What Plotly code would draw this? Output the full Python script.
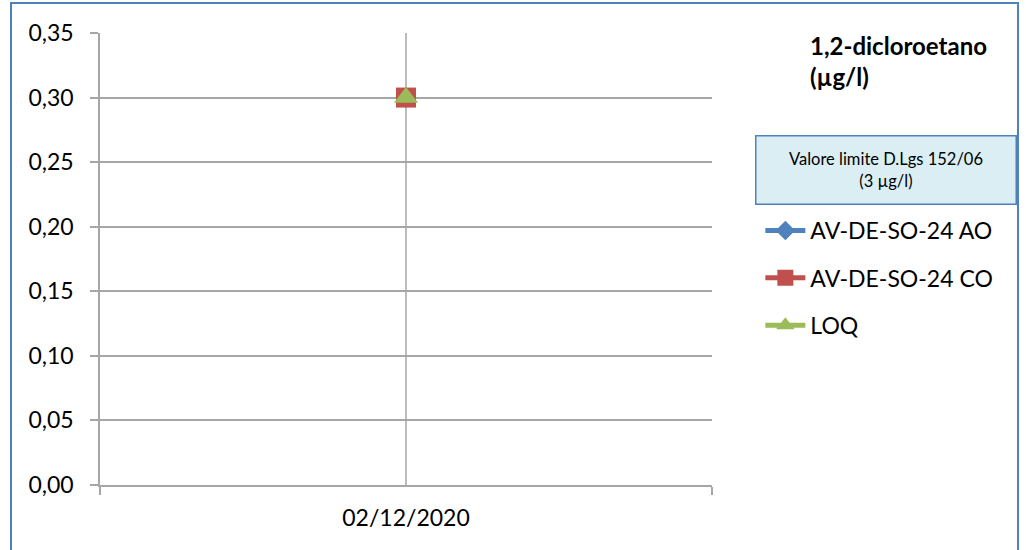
import plotly.graph_objects as go

categories = ["02/12/2020"]
ao_values = [0.30]
co_values = [0.30]
loq_values = [0.30]
y_ticks = [0.00, 0.05, 0.10, 0.15, 0.20, 0.25, 0.30, 0.35]

FONT = "Lato"
GRID = "#A6A6A6"

fig = go.Figure()
series = [
    ("AV-DE-SO-24 AO", ao_values, "#4F81BD", "diamond", 15),
    ("AV-DE-SO-24 CO", co_values, "#C0504D", "square", 20),
    ("LOQ", loq_values, "#9BBB59", "triangle-up", 21),
]
for i, (name, vals, col, sym, sz) in enumerate(series):
    fig.add_trace(go.Scatter(
        x=categories, y=vals, name=name, mode="lines+markers",
        line=dict(color=col, width=5),
        marker=dict(symbol=sym, size=sz, color=col),
        legendgroup=str(i),
    ))

fig.update_layout(
    width=1026, height=550,
    margin=dict(l=100, r=314, t=33, b=65),
    paper_bgcolor="white", plot_bgcolor="white",
    separators=",.",
    font=dict(family=FONT, size=23, color="#000000"),
    showlegend=True,
    legend=dict(
        x=1.079, xanchor="left", y=0.6106, yanchor="top",
        font=dict(family=FONT, size=23, color="#000000"),
        tracegroupgap=14.5, itemwidth=40,
        bgcolor="rgba(0,0,0,0)",
    ),
)
fig.update_xaxes(
    type="category", range=[-0.5, 0.5],
    tickson="boundaries", ticks="outside", ticklen=8, tickcolor=GRID, tickwidth=1.5,
    showgrid=False, showline=True, linecolor=GRID, linewidth=1.5,
    tickfont=dict(family=FONT, size=23), zeroline=False, ticklabelstandoff=12,
)
fig.update_yaxes(
    range=[0, 0.35], tickvals=y_ticks, tickformat=".2f",
    ticks="outside", ticklen=8, tickcolor=GRID, tickwidth=1.5,
    showgrid=True, gridcolor=GRID, gridwidth=1.5,
    showline=True, linecolor=GRID, linewidth=1.5, zeroline=False,
    tickfont=dict(family=FONT, size=23), ticklabelstandoff=12,
)
# center category gridline
fig.add_shape(type="line", xref="x", yref="paper", x0=categories[0], x1=categories[0],
              y0=0, y1=1, line=dict(color=GRID, width=1.5), layer="below")
# chart border
fig.add_shape(type="rect", xref="paper", yref="paper",
              x0=(11 - 100) / 612, x1=(1018 - 100) / 612,
              y0=-0.3, y1=(485 - 3) / 452,
              line=dict(color="#4F81BD", width=2))

fig.add_annotation(
    xref="paper", yref="paper", x=(808 - 100) / 612, y=(485 - 29) / 452,
    xanchor="left", yanchor="top", align="left", showarrow=False,
    text="<b>1,2-dicloroetano<br>(µg/l)</b>",
    font=dict(family=FONT, size=24, color="#000000"),
)
fig.add_annotation(
    xref="paper", yref="paper", x=(885.5 - 100) / 612, y=(485 - 169.5) / 452,
    xanchor="center", yanchor="middle", align="center", showarrow=False,
    text="Valore limite D.Lgs 152/06<br>(3 µg/l)",
    font=dict(family=FONT, size=16.5, color="#000000"),
    bgcolor="#DAEEF3", bordercolor="#4F81BD", borderwidth=1.5,
    width=257, height=65,
)

fig.write_html("out.html", config={"displayModeBar": False},
               post_script="document.body.style.margin='0';")
